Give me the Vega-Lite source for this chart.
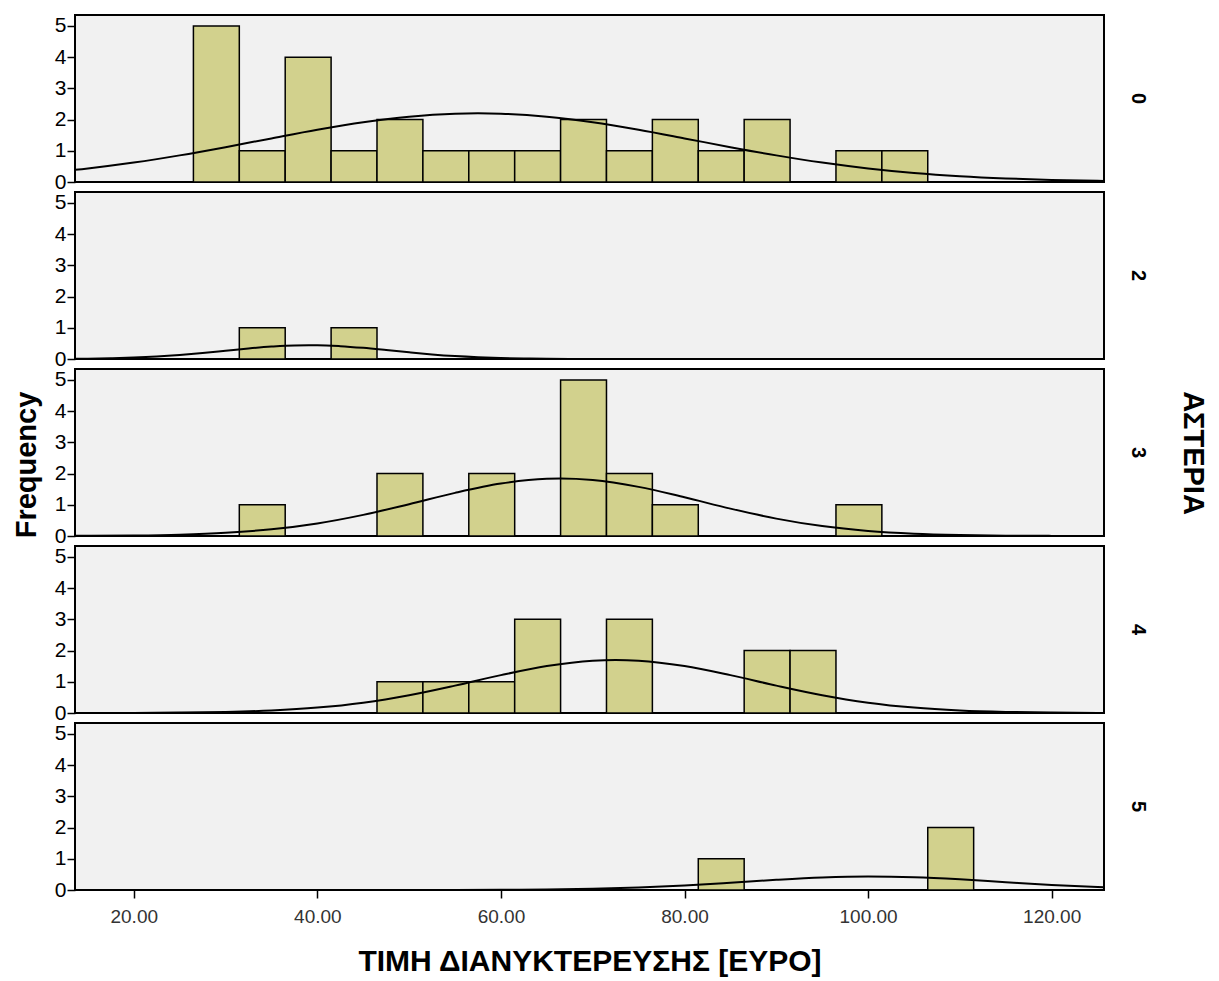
{
  "$schema": "https://vega.github.io/schema/vega-lite/v6.json",
  "background": "white",
  "padding": {"left": 13, "top": 14, "right": 4, "bottom": 4},
  "title": {"text": "Frequency", "orient": "left", "anchor": "middle", "font": "Liberation Sans", "fontSize": 29, "fontWeight": "bold", "color": "#000", "offset": 12, "dx": 30},
  "data": {"values": [
    {"a":"0","k":"b","lo":26.5,"hi":31.5,"n":5},{"a":"0","k":"b","lo":31.5,"hi":36.5,"n":1},{"a":"0","k":"b","lo":36.5,"hi":41.5,"n":4},{"a":"0","k":"b","lo":41.5,"hi":46.5,"n":1},{"a":"0","k":"b","lo":46.5,"hi":51.5,"n":2},{"a":"0","k":"b","lo":51.5,"hi":56.5,"n":1},{"a":"0","k":"b","lo":56.5,"hi":61.5,"n":1},{"a":"0","k":"b","lo":61.5,"hi":66.5,"n":1},{"a":"0","k":"b","lo":66.5,"hi":71.5,"n":2},{"a":"0","k":"b","lo":71.5,"hi":76.5,"n":1},{"a":"0","k":"b","lo":76.5,"hi":81.5,"n":2},{"a":"0","k":"b","lo":81.5,"hi":86.5,"n":1},{"a":"0","k":"b","lo":86.5,"hi":91.5,"n":2},{"a":"0","k":"b","lo":96.5,"hi":101.5,"n":1},{"a":"0","k":"b","lo":101.5,"hi":106.5,"n":1},
    {"a":"2","k":"b","lo":31.5,"hi":36.5,"n":1},{"a":"2","k":"b","lo":41.5,"hi":46.5,"n":1},
    {"a":"3","k":"b","lo":31.5,"hi":36.5,"n":1},{"a":"3","k":"b","lo":46.5,"hi":51.5,"n":2},{"a":"3","k":"b","lo":56.5,"hi":61.5,"n":2},{"a":"3","k":"b","lo":66.5,"hi":71.5,"n":5},{"a":"3","k":"b","lo":71.5,"hi":76.5,"n":2},{"a":"3","k":"b","lo":76.5,"hi":81.5,"n":1},{"a":"3","k":"b","lo":96.5,"hi":101.5,"n":1},
    {"a":"4","k":"b","lo":46.5,"hi":51.5,"n":1},{"a":"4","k":"b","lo":51.5,"hi":56.5,"n":1},{"a":"4","k":"b","lo":56.5,"hi":61.5,"n":1},{"a":"4","k":"b","lo":61.5,"hi":66.5,"n":3},{"a":"4","k":"b","lo":71.5,"hi":76.5,"n":3},{"a":"4","k":"b","lo":86.5,"hi":91.5,"n":2},{"a":"4","k":"b","lo":91.5,"hi":96.5,"n":2},
    {"a":"5","k":"b","lo":81.5,"hi":86.5,"n":1},{"a":"5","k":"b","lo":106.5,"hi":111.5,"n":2},
    {"a":"0","k":"c","x":10,"d":0.290},{"a":"0","k":"c","x":15,"d":0.435},{"a":"0","k":"c","x":20,"d":0.623},{"a":"0","k":"c","x":25,"d":0.853},{"a":"0","k":"c","x":30,"d":1.116},{"a":"0","k":"c","x":35,"d":1.397},{"a":"0","k":"c","x":40,"d":1.671},{"a":"0","k":"c","x":45,"d":1.912},{"a":"0","k":"c","x":50,"d":2.092},{"a":"0","k":"c","x":55,"d":2.188},{"a":"0","k":"c","x":57.5,"d":2.2},{"a":"0","k":"c","x":60,"d":2.188},{"a":"0","k":"c","x":65,"d":2.092},{"a":"0","k":"c","x":70,"d":1.912},{"a":"0","k":"c","x":75,"d":1.671},{"a":"0","k":"c","x":80,"d":1.397},{"a":"0","k":"c","x":85,"d":1.116},{"a":"0","k":"c","x":90,"d":0.853},{"a":"0","k":"c","x":95,"d":0.623},{"a":"0","k":"c","x":100,"d":0.435},{"a":"0","k":"c","x":105,"d":0.290},{"a":"0","k":"c","x":110,"d":0.185},{"a":"0","k":"c","x":115,"d":0.113},{"a":"0","k":"c","x":120,"d":0.066},{"a":"0","k":"c","x":125,"d":0.037},{"a":"0","k":"c","x":130,"d":0.020},
    {"a":"2","k":"c","x":10,"d":0.002},{"a":"2","k":"c","x":12.5,"d":0.006},{"a":"2","k":"c","x":15,"d":0.012},{"a":"2","k":"c","x":17.5,"d":0.025},{"a":"2","k":"c","x":20,"d":0.047},{"a":"2","k":"c","x":22.5,"d":0.081},{"a":"2","k":"c","x":25,"d":0.130},{"a":"2","k":"c","x":27.5,"d":0.193},{"a":"2","k":"c","x":30,"d":0.266},{"a":"2","k":"c","x":32.5,"d":0.339},{"a":"2","k":"c","x":35,"d":0.399},{"a":"2","k":"c","x":37.5,"d":0.436},{"a":"2","k":"c","x":40,"d":0.441},{"a":"2","k":"c","x":42.5,"d":0.412},{"a":"2","k":"c","x":45,"d":0.357},{"a":"2","k":"c","x":47.5,"d":0.287},{"a":"2","k":"c","x":50,"d":0.213},{"a":"2","k":"c","x":52.5,"d":0.146},{"a":"2","k":"c","x":55,"d":0.093},{"a":"2","k":"c","x":57.5,"d":0.055},{"a":"2","k":"c","x":60,"d":0.030},{"a":"2","k":"c","x":62.5,"d":0.015},{"a":"2","k":"c","x":65,"d":0.007},{"a":"2","k":"c","x":67.5,"d":0.003},{"a":"2","k":"c","x":70,"d":0.001},{"a":"2","k":"c","x":75,"d":0.0},{"a":"2","k":"c","x":130,"d":0.0},
    {"a":"3","k":"c","x":10,"d":0.002},{"a":"3","k":"c","x":15,"d":0.006},{"a":"3","k":"c","x":20,"d":0.017},{"a":"3","k":"c","x":25,"d":0.044},{"a":"3","k":"c","x":30,"d":0.103},{"a":"3","k":"c","x":35,"d":0.215},{"a":"3","k":"c","x":40,"d":0.403},{"a":"3","k":"c","x":45,"d":0.677},{"a":"3","k":"c","x":50,"d":1.020},{"a":"3","k":"c","x":55,"d":1.382},{"a":"3","k":"c","x":60,"d":1.679},{"a":"3","k":"c","x":65,"d":1.831},{"a":"3","k":"c","x":66.5,"d":1.84},{"a":"3","k":"c","x":70,"d":1.792},{"a":"3","k":"c","x":75,"d":1.574},{"a":"3","k":"c","x":80,"d":1.240},{"a":"3","k":"c","x":85,"d":0.877},{"a":"3","k":"c","x":90,"d":0.557},{"a":"3","k":"c","x":95,"d":0.317},{"a":"3","k":"c","x":100,"d":0.162},{"a":"3","k":"c","x":105,"d":0.074},{"a":"3","k":"c","x":110,"d":0.031},{"a":"3","k":"c","x":115,"d":0.011},{"a":"3","k":"c","x":120,"d":0.004},{"a":"3","k":"c","x":125,"d":0.001},{"a":"3","k":"c","x":130,"d":0.0},
    {"a":"4","k":"c","x":10,"d":0.0},{"a":"4","k":"c","x":15,"d":0.001},{"a":"4","k":"c","x":20,"d":0.004},{"a":"4","k":"c","x":25,"d":0.013},{"a":"4","k":"c","x":30,"d":0.034},{"a":"4","k":"c","x":35,"d":0.081},{"a":"4","k":"c","x":40,"d":0.173},{"a":"4","k":"c","x":45,"d":0.331},{"a":"4","k":"c","x":50,"d":0.569},{"a":"4","k":"c","x":55,"d":0.877},{"a":"4","k":"c","x":60,"d":1.213},{"a":"4","k":"c","x":65,"d":1.505},{"a":"4","k":"c","x":70,"d":1.677},{"a":"4","k":"c","x":72.5,"d":1.70},{"a":"4","k":"c","x":75,"d":1.677},{"a":"4","k":"c","x":80,"d":1.505},{"a":"4","k":"c","x":85,"d":1.213},{"a":"4","k":"c","x":90,"d":0.877},{"a":"4","k":"c","x":95,"d":0.569},{"a":"4","k":"c","x":100,"d":0.331},{"a":"4","k":"c","x":105,"d":0.173},{"a":"4","k":"c","x":110,"d":0.081},{"a":"4","k":"c","x":115,"d":0.034},{"a":"4","k":"c","x":120,"d":0.013},{"a":"4","k":"c","x":125,"d":0.004},{"a":"4","k":"c","x":130,"d":0.001},
    {"a":"5","k":"c","x":10,"d":0.0},{"a":"5","k":"c","x":40,"d":0.0},{"a":"5","k":"c","x":45,"d":0.0002},{"a":"5","k":"c","x":50,"d":0.0006},{"a":"5","k":"c","x":55,"d":0.002},{"a":"5","k":"c","x":60,"d":0.007},{"a":"5","k":"c","x":65,"d":0.017},{"a":"5","k":"c","x":70,"d":0.040},{"a":"5","k":"c","x":75,"d":0.082},{"a":"5","k":"c","x":80,"d":0.147},{"a":"5","k":"c","x":85,"d":0.233},{"a":"5","k":"c","x":90,"d":0.325},{"a":"5","k":"c","x":95,"d":0.398},{"a":"5","k":"c","x":100,"d":0.430},{"a":"5","k":"c","x":105,"d":0.408},{"a":"5","k":"c","x":110,"d":0.342},{"a":"5","k":"c","x":115,"d":0.251},{"a":"5","k":"c","x":120,"d":0.163},{"a":"5","k":"c","x":125,"d":0.093},{"a":"5","k":"c","x":130,"d":0.047}
  ]},
  "facet": {
    "row": {
      "field": "a", "type": "ordinal", "title": "ΑΣΤΕΡΙΑ",
      "header": {
        "labelOrient": "right", "titleOrient": "right",
        "labelAngle": 90, "titleAngle": 90,
        "labelFont": "Liberation Sans", "labelFontSize": 20, "labelFontWeight": "bold", "labelColor": "#000",
        "labelPadding": 24,
        "titleFont": "Liberation Sans", "titleFontSize": 29, "titleFontWeight": "bold", "titleColor": "#000",
        "titlePadding": 20
      }
    }
  },
  "bounds": "flush",
  "spacing": {"row": 10},
  "spec": {
    "width": 1029,
    "height": 167,
    "layer": [
      {
        "transform": [{"filter": "datum.k == 'b'"}],
        "mark": {"type": "rect", "fill": "#d2d18d", "stroke": "#000", "strokeWidth": 1.5},
        "encoding": {
          "x": {"field": "lo", "type": "quantitative", "title": "ΤΙΜΗ ΔΙΑΝΥΚΤΕΡΕΥΣΗΣ [ΕΥΡΟ]", "scale": {"domain": [13.6, 125.7], "nice": false, "zero": false}, "axis": {"values": [20, 40, 60, 80, 100, 120], "format": ".2f"}},
          "x2": {"field": "hi"},
          "y": {"field": "n", "type": "quantitative", "title": null, "scale": {"domain": [0, 5.35], "nice": false}, "axis": {"values": [0, 1, 2, 3, 4, 5], "format": "d", "tickCount": 6}},
          "y2": {"datum": 0}
        }
      },
      {
        "transform": [{"filter": "datum.k == 'c'"}],
        "mark": {"type": "line", "color": "#000", "strokeWidth": 2, "interpolate": "monotone", "clip": true},
        "encoding": {
          "x": {"field": "x", "type": "quantitative", "title": "ΤΙΜΗ ΔΙΑΝΥΚΤΕΡΕΥΣΗΣ [ΕΥΡΟ]", "axis": {"values": [20, 40, 60, 80, 100, 120], "format": ".2f"}},
          "y": {"field": "d", "type": "quantitative", "title": null, "axis": {"values": [0, 1, 2, 3, 4, 5], "format": "d", "tickCount": 6}}
        }
      }
    ]
  },
  "config": {
    "view": {"fill": "#f1f1f1", "stroke": "#000", "strokeWidth": 2},
    "axis": {"grid": false, "domain": false, "tickColor": "#000", "tickWidth": 1.5, "tickSize": 8, "labelFont": "Liberation Sans", "labelColor": "#000", "labelFlush": false, "labelOverlap": false},
    "axisY": {"labelFontSize": 21, "labelPadding": 1},
    "axisX": {"labelFontSize": 19, "labelColor": "#333", "labelPadding": 9, "titleFont": "Liberation Sans", "titleFontSize": 30, "titleFontWeight": "bold", "titleColor": "#000", "titlePadding": 20}
  }
}
